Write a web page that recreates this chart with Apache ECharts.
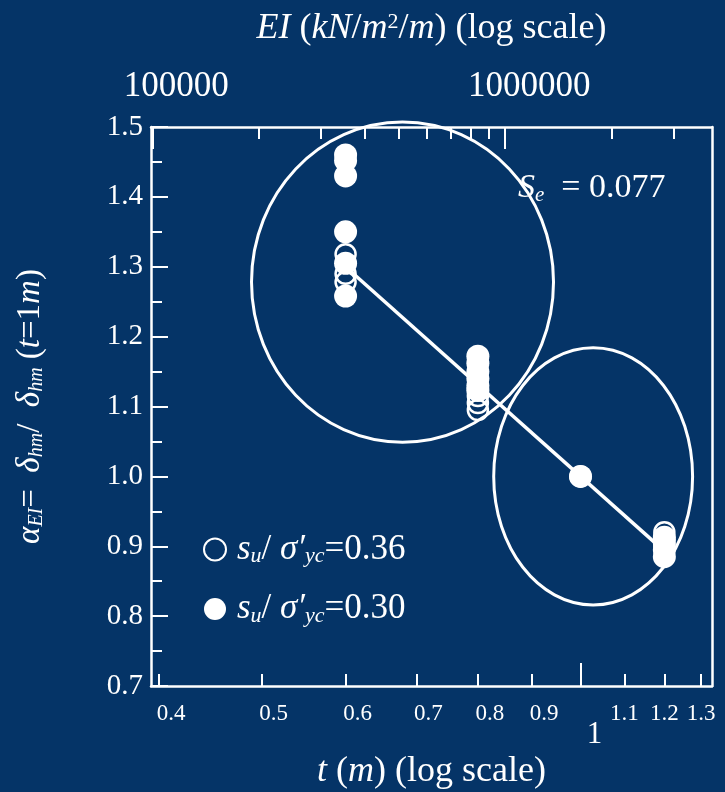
<!DOCTYPE html>
<html>
<head>
<meta charset="utf-8">
<script src="https://cdn.jsdelivr.net/npm/echarts@6/dist/echarts.min.js"></script>
<style>
  html, body { margin: 0; padding: 0; background: #053467; }
  #main { width: 725px; height: 792px; }
</style>
</head>
<body>
<div id="main"></div>
<script>
// open circles: su/σ'yc = 0.36
var tOpen = [0.6, 0.6, 0.6, 0.8, 0.8, 0.8, 0.8, 1.0, 1.2, 1.2, 1.2];
var aOpen = [1.318, 1.290, 1.278, 1.095, 1.105, 1.115, 1.125, 1.0, 0.920, 0.910, 0.900];
// filled circles: su/σ'yc = 0.30
var tFill = [0.6, 0.6, 0.6, 0.6, 0.6, 0.6, 0.8, 0.8, 0.8, 0.8, 0.8, 0.8, 1.0, 1.2, 1.2, 1.2, 1.2];
var aFill = [1.460, 1.452, 1.430, 1.350, 1.305, 1.258, 1.172, 1.162, 1.150, 1.140, 1.130, 1.123, 1.0, 0.913, 0.905, 0.895, 0.885];
// fitted line
var tFit = [0.6, 1.2];
var aFit = [1.300, 0.893];

// tick labels
var tTicks = [0.4, 0.5, 0.6, 0.7, 0.8, 0.9, 1.1, 1.2, 1.3];
var tMajor = [1];
var eiMinor = [2e5, 3e5, 4e5, 5e5, 6e5, 7e5, 8e5, 9e5, 2e6, 3e6];
var eiMajor = [1e5, 1e6];
var tMin = 0.393, tMax = 1.331;
var EI_PER_T3 = 1.634e6;   // EI = k * t^3

// ellipses: [tLeft, tRight, aBottom, aTop]
var ellipseBoxes = [
    [0.489, 0.943, 1.049, 1.507],
    [0.828, 1.276, 0.816, 1.184]
];

function pairs(xs, ys) {
    var out = [];
    for (var i = 0; i < xs.length; i++) out.push([xs[i], ys[i]]);
    return out;
}

var FONT = 'Liberation Serif';
var WHITE = '#ffffff';

// rich styles for math-like labels; key = 'color' for components, 'fill' for graphic
function makeRich(size, subSize, colorKey) {
    var k = colorKey || 'color';
    var off = Math.round(size * 0.4);
    var r = {
        i: { fontFamily: FONT, fontStyle: 'italic', fontSize: size },
        n: { fontFamily: FONT, fontSize: size },
        sub: { fontFamily: FONT, fontStyle: 'italic', fontSize: subSize, verticalAlign: 'bottom', padding: [off, 0, 0, 0] },
        sup: { fontFamily: FONT, fontSize: subSize, verticalAlign: 'top', padding: [0, 0, off, 0] }
    };
    for (var s in r) r[s][k] = WHITE;
    return r;
}

var chart = echarts.init(document.getElementById('main'));

var baseX = {
    type: 'log',
    logBase: 10,
    min: tMin,
    max: tMax,
    splitLine: { show: false },
    axisLine: { show: false }
};

chart.setOption({
    backgroundColor: '#053467',
    animation: false,
    textStyle: { fontFamily: FONT, color: WHITE },
    grid: { left: 151, right: 13, top: 127, bottom: 106, outerBoundsMode: 'none', containLabel: false },
    legend: {
        orient: 'vertical',
        left: 198,
        top: 527,
        itemWidth: 22,
        itemHeight: 22,
        itemGap: 24,
        data: ['open', 'fill'],
        formatter: function (name) {
            var v = name === 'open' ? '0.36' : '0.30';
            return '{i|s}{sub|u}{n|/ }{i|σ′}{sub|yc}{n|=' + v + '}';
        },
        textStyle: { rich: makeRich(35, 22), fontSize: 35, color: WHITE, padding: [0, 0, 0, 6] }
    },
    xAxis: [
        Object.assign({}, baseX, {
            position: 'bottom',
            axisLine: { show: true, lineStyle: { color: WHITE, width: 2.5 } },
            axisTick: { show: true, inside: true, length: 12, lineStyle: { color: WHITE, width: 2 }, customValues: tTicks },
            axisLabel: {
                show: true, color: WHITE, fontFamily: FONT, fontSize: 23, margin: 16, customValues: tTicks,
                formatter: function (v) {
                    var s = String(+v.toFixed(1));
                    return v < 1 ? '{a|' + s + '}' : '{b|' + s + '}';
                },
                rich: {
                    a: { fontFamily: FONT, fontSize: 23, color: WHITE, padding: [0, 0, 0, 24] },
                    b: { fontFamily: FONT, fontSize: 23, color: WHITE }
                }
            },
            name: '{i|t}{n| (}{i|m}{n|) (log scale)}',
            nameLocation: 'middle',
            nameGap: 68,
            nameTextStyle: { rich: makeRich(36, 22) }
        }),
        Object.assign({}, baseX, {
            position: 'bottom',
            axisTick: { show: true, inside: true, length: 23, lineStyle: { color: WHITE, width: 2 }, customValues: tMajor },
            axisLabel: { show: true, color: WHITE, fontFamily: FONT, fontSize: 31, margin: 33, padding: [0, 0, 0, 28], customValues: tMajor, formatter: function (v) { return String(Math.round(v)); } }
        }),
        {
            type: 'log',
            logBase: 10,
            position: 'top',
            min: EI_PER_T3 * tMin * tMin * tMin,
            max: EI_PER_T3 * tMax * tMax * tMax,
            splitLine: { show: false },
            axisLine: { show: true, lineStyle: { color: WHITE, width: 2.5 } },
            axisTick: { show: true, inside: true, length: 12, lineStyle: { color: WHITE, width: 2 }, customValues: eiMinor },
            axisLabel: { show: false }
        },
        {
            type: 'log',
            logBase: 10,
            position: 'top',
            min: EI_PER_T3 * tMin * tMin * tMin,
            max: EI_PER_T3 * tMax * tMax * tMax,
            splitLine: { show: false },
            axisLine: { show: false },
            axisTick: { show: true, inside: true, length: 22, lineStyle: { color: WHITE, width: 2 }, customValues: eiMajor },
            axisLabel: { show: true, color: WHITE, fontFamily: FONT, fontSize: 35, margin: 23, padding: [0, 0, 0, 48], customValues: eiMajor, formatter: function (v) { return String(Math.round(v)); } },
            name: '{i|EI}{n| (}{i|kN}{n|/}{i|m}{sup|2}{n|/}{i|m}{n|) (log scale)}',
            nameLocation: 'middle',
            nameGap: 80,
            nameTextStyle: { rich: makeRich(36, 22) }
        }
    ],
    yAxis: [
        {
            type: 'value',
            min: 0.7,
            max: 1.5,
            interval: 0.1,
            splitLine: { show: false },
            axisLine: { show: true, lineStyle: { color: WHITE, width: 2.5 } },
            axisTick: { show: true, inside: true, length: 17, lineStyle: { color: WHITE, width: 2 } },
            minorTick: { show: true, splitNumber: 2, length: 11, lineStyle: { color: WHITE, width: 2 } },
            axisLabel: { color: WHITE, fontFamily: FONT, fontSize: 29, margin: 8, formatter: function (v) { return v.toFixed(1); } },
            name: '{i|α}{sub|EI}{n|=  }{i|δ}{sub|hm}{n|/  }{i|δ}{sub|hm}{n| (}{i|t}{n|=1}{i|m}{n|)}',
            nameLocation: 'middle',
            nameRotate: 90,
            nameGap: 104,
            nameTextStyle: { rich: makeRich(33, 20) }
        },
        {
            type: 'value',
            position: 'right',
            min: 0.7,
            max: 1.5,
            splitLine: { show: false },
            axisLine: { show: true, lineStyle: { color: WHITE, width: 2.5 } },
            axisTick: { show: false },
            axisLabel: { show: false }
        }
    ],
    graphic: [
        {
            type: 'text',
            left: 518,
            top: 171,
            style: {
                text: '{i|S}{sub|e}{n|  = 0.077}',
                rich: makeRich(34, 21, 'fill')
            }
        }
    ],
    series: [
        {
            type: 'custom',
            xAxisIndex: 0,
            yAxisIndex: 0,
            clip: false,
            silent: true,
            z: 1,
            dimensions: ['t0', 't1', 'a0', 'a1'],
            encode: { x: [0, 1], y: [2, 3] },
            data: ellipseBoxes,
            renderItem: function (params, api) {
                var p1 = api.coord([api.value(0), api.value(3)]);
                var p2 = api.coord([api.value(1), api.value(2)]);
                return {
                    type: 'ellipse',
                    shape: {
                        cx: (p1[0] + p2[0]) / 2,
                        cy: (p1[1] + p2[1]) / 2,
                        rx: Math.abs(p2[0] - p1[0]) / 2,
                        ry: Math.abs(p2[1] - p1[1]) / 2
                    },
                    style: { fill: null, stroke: WHITE, lineWidth: 3 }
                };
            }
        },
        {
            type: 'line',
            xAxisIndex: 0,
            yAxisIndex: 0,
            data: pairs(tFit, aFit),
            symbol: 'none',
            lineStyle: { color: WHITE, width: 3.5 },
            z: 2
        },
        {
            name: 'open',
            type: 'scatter',
            xAxisIndex: 0,
            yAxisIndex: 0,
            data: pairs(tOpen, aOpen),
            symbol: 'circle',
            symbolSize: 20,
            itemStyle: { color: 'rgba(0,0,0,0)', borderColor: WHITE, borderWidth: 2.5, opacity: 1 },
            z: 3
        },
        {
            name: 'fill',
            type: 'scatter',
            xAxisIndex: 0,
            yAxisIndex: 0,
            data: pairs(tFill, aFill),
            symbol: 'circle',
            symbolSize: 23,
            itemStyle: { color: WHITE, opacity: 1 },
            z: 4
        }
    ]
});
</script>
</body>
</html>
